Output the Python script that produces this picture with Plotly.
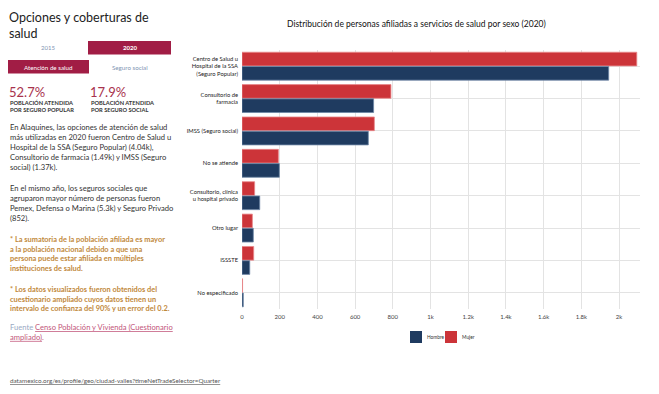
import plotly.graph_objects as go

categories = [
    "Centro de Salud u<br>Hospital de la SSA<br>(Seguro Popular)",
    "Consultorio de<br>farmacia",
    "IMSS (Seguro social)",
    "No se atiende",
    "Consultorio, clínica<br>u hospital privado",
    "Otro lugar",
    "ISSSTE",
    "No especificado",
]
mujer = [2094, 790, 702, 193, 67, 55, 62, 3]
hombre = [1945, 698, 670, 198, 94, 60, 41, 7]
tick_vals = [0, 200, 400, 600, 800, 1000, 1200, 1400, 1600, 1800, 2000]
tick_text = ["0", "200", "400", "600", "800", "1k", "1.2k", "1.4k", "1.6k", "1.8k", "2k"]

W, H = 659, 394
L, R, T, B = 242, 19, 50, 85
PW, PH = W - L - R, H - T - B

def px(x):
    return (x - L) / PW

def py(y):
    return (H - B - y) / PH

FONT = "Lato"
NARROW = "Liberation Sans Narrow, Lato"
C_MUJER = "#cc3439"
C_HOMBRE = "#1f3b60"

fig = go.Figure()
fig.add_trace(go.Bar(
    y=categories, x=mujer, name="Mujer", orientation="h",
    marker=dict(color=C_MUJER, line=dict(color="#e9888a", width=0.8)),
))
fig.add_trace(go.Bar(
    y=categories, x=hombre, name="Hombre", orientation="h",
    marker=dict(color=C_HOMBRE, line=dict(color="#6d86a6", width=0.8)),
))

fig.update_layout(
    width=W, height=H,
    margin=dict(l=L, r=R, t=T, b=B, pad=3),
    paper_bgcolor="white", plot_bgcolor="white",
    barmode="group", bargap=0.12, bargroupgap=0.04,
    font=dict(family=NARROW, size=7, color="#333"),
    showlegend=False,
    xaxis=dict(range=[0, 2111], tickvals=tick_vals, ticktext=tick_text, automargin=False,
               showgrid=True, gridcolor="#e3e3e3", gridwidth=1, zeroline=False,
               showline=False, ticks="", tickfont=dict(size=6, color="#444")),
    yaxis=dict(autorange="reversed", showgrid=True, gridcolor="#e3e3e3", gridwidth=1,
               automargin=False, showline=False, ticks="",
               tickfont=dict(size=5.8, color="#222")),
)

ann = []
shapes = []

def text(x, y, s, size, color, family=FONT, xanchor="left", yanchor="middle", align="left"):
    ann.append(dict(x=px(x), y=py(y), xref="paper", yref="paper", text=s, showarrow=False,
                    xanchor=xanchor, yanchor=yanchor, align=align,
                    font=dict(size=size, color=color, family=family)))

def rect(x0, y0, x1, y1, color):
    shapes.append(dict(type="rect", xref="paper", yref="paper", x0=px(x0), x1=px(x1),
                       y0=py(y1), y1=py(y0), fillcolor=color, line=dict(width=0), layer="above"))

# chart title
text(416, 24, "Distribución de personas afiliadas a servicios de salud por sexo (2020)", 8.5, "#111",
     family=NARROW, xanchor="center")

# legend (drawn manually to match spacing)
rect(410, 331, 422, 343, C_HOMBRE)
text(425, 337, "Hombre", 4.8, "#333", family=NARROW)
rect(445, 331, 457, 343, C_MUJER)
text(460, 337, "Mujer", 4.8, "#333", family=NARROW)

# left panel title
text(7, 26, "Opciones y coberturas de<br>salud", 12.5, "#222", family=FONT)

# buttons
rect(88, 41, 171, 54.5, "#a11d45")
rect(8, 60, 89, 73.5, "#a11d45")
text(48, 47.5, "2015", 6, "#8095b3", xanchor="center")
text(129.5, 47.5, "<b>2020</b>", 6, "white", xanchor="center")
text(48.5, 67, "Atención de salud", 6.2, "white", xanchor="center")
text(129.5, 67, "Seguro social", 6.2, "#8095b3", xanchor="center")

# stats
text(7, 91.5, "52.7%", 13, "#a8324d")
text(88, 91.5, "17.9%", 13, "#a8324d")
text(8, 105.5, "<b>POBLACIÓN ATENDIDA<br>POR SEGURO POPULAR</b>", 5.7, "#333")
text(89, 105.5, "<b>POBLACIÓN ATENDIDA<br>POR SEGURO SOCIAL</b>", 5.7, "#333")

# paragraphs
text(8, 147, "En Alaquines, las opciones de atención de salud<br>"
             "más utilizadas en 2020 fueron Centro de Salud u<br>"
             "Hospital de la SSA (Seguro Popular) (4.04k),<br>"
             "Consultorio de farmacia (1.49k) y IMSS (Seguro<br>"
             "social) (1.37k).", 7.6, "#333")
text(8, 203, "En el mismo año, los seguros sociales que<br>"
             "agruparon mayor número de personas fueron<br>"
             "Pemex, Defensa o Marina (5.3k) y Seguro Privado<br>"
             "(852).", 7.6, "#333")
text(8, 253.5, "<b>* La sumatoria de la población afiliada es mayor<br>"
               "a la población nacional debido a que una<br>"
               "persona puede estar afiliada en múltiples<br>"
               "instituciones de salud.</b>", 7.4, "#bf883a")
text(8, 298.5, "<b>* Los datos visualizados fueron obtenidos del<br>"
               "cuestionario ampliado cuyos datos tienen un<br>"
               "intervalo de confianza del 90% y un error del 0.2.</b>", 7.4, "#bf883a")
text(8, 332, "<span style='color:#9aaac4'>Fuente</span> "
             "<span style='text-decoration:underline'>Censo Población y Vivienda (Cuestionario</span><br>"
             "<span style='text-decoration:underline'>ampliado)</span>.", 7.6, "#c2557a")

# footer
text(8, 381, "<span style='text-decoration:underline'>datamexico.org/es/profile/geo/ciudad-valles?timeNetTradeSelector=Quarter</span>",
     6.3, "#555")

fig.update_layout(annotations=ann, shapes=shapes)
fig.write_html("out.html", config={"displayModeBar": False},
               post_script="document.body.style.margin='0';document.body.style.overflow='hidden';")
